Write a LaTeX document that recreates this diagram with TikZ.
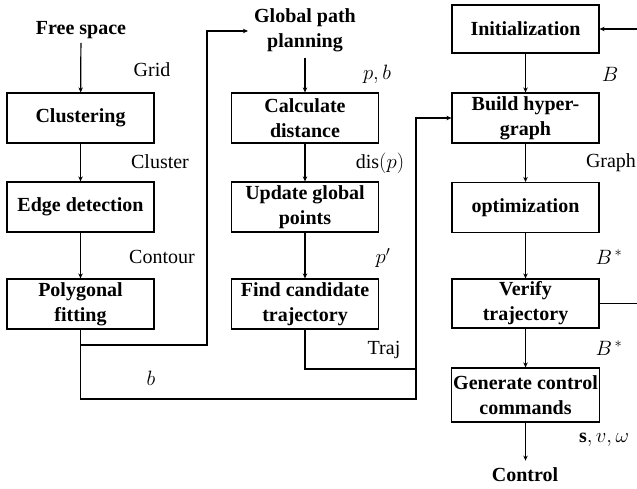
\documentclass[tikz,border=0pt]{standalone}
\usepackage{fontspec}
\setmainfont{Liberation Serif}
\usetikzlibrary{arrows.meta}
\begin{document}
\begin{tikzpicture}[x=1pt,y=-1pt,
  font=\fontsize{20}{25}\selectfont,
  stepbox/.style={draw, line width=1.2pt, minimum width=147pt, minimum height=50pt,
    align=center, inner sep=2pt, font=\fontsize{20}{25}\selectfont\bfseries},
  plain/.style={align=center, inner sep=4pt, font=\fontsize{20}{25}\selectfont\bfseries},
  lbl/.style={inner sep=0pt, font=\fontsize{20}{24}\selectfont},
  flow/.style={line width=1.2pt, -{Stealth[length=5pt,width=4.5pt]}},
  wire/.style={line width=1.2pt}]
\useasboundingbox (0,0) rectangle (637,489);
\clip (0,0) rectangle (637,489);

% first column: free space processing
\node[plain] (free) at (81,30) {Free space};
\node[stepbox] (clus) at (80.5,118) {Clustering};
\node[stepbox] (edge) at (80.5,207) {Edge detection};
\node[stepbox] (poly) at (80.5,304) {Polygonal\\fitting};

% second column: global path
\node[plain, inner sep=6pt] (gpp) at (305,30.5) {Global path\\planning};
\node[stepbox] (calc) at (305,118) {Calculate\\distance};
\node[stepbox] (upd) at (305,207) {Update global\\points};
\node[stepbox] (find) at (305,304) {Find candidate\\trajectory};

% third column: hypergraph optimisation
\node[stepbox, minimum height=48pt] (init) at (525.5,29) {Initialization};
\node[stepbox] (build) at (525.5,118) {Build hyper-\\graph};
\node[stepbox] (opt) at (525.5,207.5) {optimization};
\node[stepbox, minimum height=49pt] (ver) at (525.5,303.5) {Verify\\trajectory};
\node[stepbox, minimum height=54pt] (gen) at (525.5,395) {Generate control\\commands};
\node[plain] (ctrl) at (525,475) {Control};

% junction points of the routed wires
\coordinate (j1) at (207,345);
\coordinate (j2) at (416,399);
\coordinate (j3) at (416,369);
\coordinate (loop) at (650,303.5);

% straight flows
\draw[flow] (free) -- (clus);
\draw[flow] (clus) -- (edge);
\draw[flow] (edge) -- (poly);
\draw[flow] (gpp) -- (calc);
\draw[flow] (calc) -- (upd);
\draw[flow] (upd) -- (find);
\draw[flow] (init) -- (build);
\draw[flow] (build) -- (opt);
\draw[flow] (opt) -- (ver);
\draw[flow] (ver) -- (gen);
\draw[flow] (gen.south) -- ++(0,38);

% routed flows
\draw[flow] (poly.south) |- (j1) |- ([yshift=-0.5pt]gpp.west);
\draw[flow] (poly.south) |- (j2) |- (build.west);
\draw[wire] (find.south) |- (j3);
\draw[flow] (ver.east) -- (loop) |- (init.east);

% data labels
\node[lbl] (lgrid) at (152,70) {Grid};
\node[lbl] (lclus) at (160,162) {Cluster};
\node[lbl] (lcont) at (162,257) {Contour};
\node[lbl] (lb) at (151,378) {$b$};
\node[lbl] (lpb) at (377,74) {$p,b$};
\node[lbl] (ldis) at (380,163) {$\mathrm{dis}(p)$};
\node[lbl] (lpp) at (383,258) {$p'$};
\node[lbl] (ltraj) at (384,350) {Traj};
\node[lbl] (lB) at (610,74) {$B$};
\node[lbl] (lgraph) at (611,163) {Graph};
\node[lbl] (lB1) at (609,257) {$B^{\,*}$};
\node[lbl] (lB2) at (609,348) {$B^{\,*}$};
\node[lbl] (lsvw) at (604,440) {$\mathbf{s},v,\omega$};
\end{tikzpicture}
\end{document}
